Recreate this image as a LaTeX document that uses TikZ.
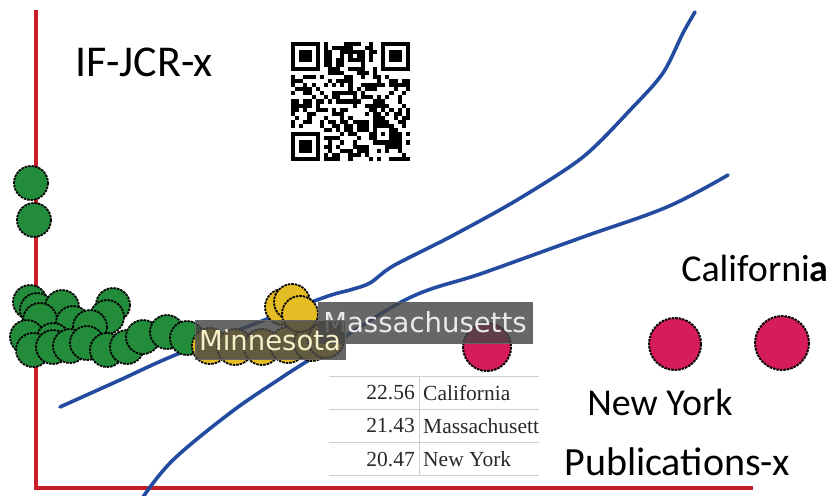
\documentclass[tikz,border=0pt]{standalone}
\usepackage{fontspec}
\newfontfamily\carl{Carlito}
\newfontfamily\dvs{DejaVu Sans}
\newfontfamily\lser{Liberation Serif}
\definecolor{axisred}{RGB}{200,30,40}
\definecolor{curveblue}{RGB}{35,75,160}
\definecolor{dotgreen}{RGB}{35,140,58}
\definecolor{dotyellow}{RGB}{228,188,35}
\definecolor{dotred}{RGB}{215,28,92}
\definecolor{labgray}{RGB}{70,70,70}
\definecolor{tabline}{RGB}{205,205,205}
\definecolor{tabtext}{RGB}{40,40,40}
\tikzset{
  axisline/.style={draw=axisred,line width=3.5pt,line join=miter},
  fitcurve/.style={draw=curveblue,line width=3.6pt,line cap=round,line join=round},
  gdot/.style={fill=dotgreen,draw=black,line width=1.8pt,dash pattern=on 2.5pt off 1pt},
  ydot/.style={fill=dotyellow,draw=black,line width=1.8pt,dash pattern=on 2.5pt off 1pt},
  rdot/.style={fill=dotred,draw=black,line width=2pt,dash pattern=on 2.5pt off 1pt},
  statelabel/.style={fill=labgray,fill opacity=0.82,text opacity=1,draw=black!60,line width=0.6pt,inner sep=0pt,font=\dvs\fontsize{27.5}{30}\selectfont},
  bigtext/.style={font=\carl\fontsize{38}{42}\selectfont,text=black,inner sep=0pt},
  tabcell/.style={font=\lser\fontsize{21.5}{24}\selectfont,text=tabtext,inner sep=0pt},
}
\begin{document}
\begin{tikzpicture}[x=1pt,y=-1pt]
\useasboundingbox (0,0) rectangle (832,495);
\fill[white] (0,0) rectangle (832,495);

% axes
\draw[axisline] (36,10) -- (36,488) -- (753,488);

% fitted curves
\draw[fitcurve] plot[smooth,tension=0.6] coordinates {(143,497) (173,460) (230,413) (278,380) (317,355) (407,299) (483,273) (583,237) (667,207) (728,175)};
\draw[fitcurve] plot[smooth,tension=0.5] coordinates {(60,407) (120,380) (180,353) (317,300) (350,290) (370,283) (393,266) (450,237) (517,200) (583,157) (633,107) (663,73) (683,33) (695,12)};

% QR code
\def\qs{4.1}
\pgfmathsetseed{4711}
\begin{scope}[shift={(291,42)}]
  \foreach \i in {0,...,28}{\foreach \j in {0,...,28}{
    \pgfmathrandominteger{\v}{0}{99}
    \ifnum\v<48 \fill (\i*\qs,\j*\qs) rectangle ++(\qs,\qs);\fi }}
  \fill[white] (0,0) rectangle (8*\qs,8*\qs);
  \fill[white] (21*\qs,0) rectangle (29*\qs,8*\qs);
  \fill[white] (0,21*\qs) rectangle (8*\qs,29*\qs);
  \foreach \ox/\oy in {0/0,22/0,0/22}{
    \fill (\ox*\qs,\oy*\qs) rectangle ++(7*\qs,7*\qs);
    \fill[white] (\ox*\qs+\qs,\oy*\qs+\qs) rectangle ++(5*\qs,5*\qs);
    \fill (\ox*\qs+2*\qs,\oy*\qs+2*\qs) rectangle ++(3*\qs,3*\qs);
  }
  \fill (20*\qs,20*\qs) rectangle ++(5*\qs,5*\qs);
  \fill[white] (21*\qs,21*\qs) rectangle ++(3*\qs,3*\qs);
  \fill (22*\qs,22*\qs) rectangle ++(\qs,\qs);
\end{scope}

% green dots
\foreach \px/\py in {31/183,34/220,
  30/302,37/310,62/307,113/305,40/320,73/323,107/317,90/327,
  27/337,53/340,33/350,53/347,70/346,87/343,107/350,127/347,143/337,167/332,187/338}
  {\path[gdot] (\px,\py) circle[radius=17];}

% yellow dots
\foreach \px/\py in {210/346,235/347,262/347,288/345,312/343,326/340,283/307,292/302,300/314}
  {\path[ydot] (\px,\py) circle[radius=18];}

% red dots
\path[rdot] (487,347) circle[radius=24];
\path[rdot] (675,344) circle[radius=26];
\path[rdot] (782,343) circle[radius=27];

% state labels
\node[statelabel,minimum width=214pt,minimum height=41pt,text=black!8] (mass) at (425,322.5) {Massachusetts};
\node[statelabel,minimum width=150pt,minimum height=39pt,text={rgb,255:red,245;green,240;blue,200}] (minn) at (270,340) {Minnesota};

% titles
\node[bigtext,font=\carl\fontsize{44}{48}\selectfont] (ylab) at (144,62) {IF-JCR-x};
\node[bigtext] (cal) at (755,268) {Californi\textbf{a}};
\node[bigtext] (ny) at (660,402) {New York};
\node[bigtext,font=\carl\fontsize{40}{44}\selectfont] (xlab) at (677,462) {Publications-x};

% table
\foreach \ly in {376,409,442,475}{\draw[tabline,line width=1pt] (329,\ly) -- (539,\ly);}
\draw[tabline,line width=1pt] (419,376) -- (419,475);
\node[tabcell,anchor=east] (v1) at (415,393) {22.56};
\node[tabcell,anchor=west] (n1) at (423,393) {California};
\node[tabcell,anchor=east] (v2) at (415,426) {21.43};
\node[tabcell,anchor=west] (n2) at (423,426) {Massachusett};
\node[tabcell,anchor=east] (v3) at (415,459) {20.47};
\node[tabcell,anchor=west] (n3) at (423,459) {New York};
\end{tikzpicture}
\end{document}
